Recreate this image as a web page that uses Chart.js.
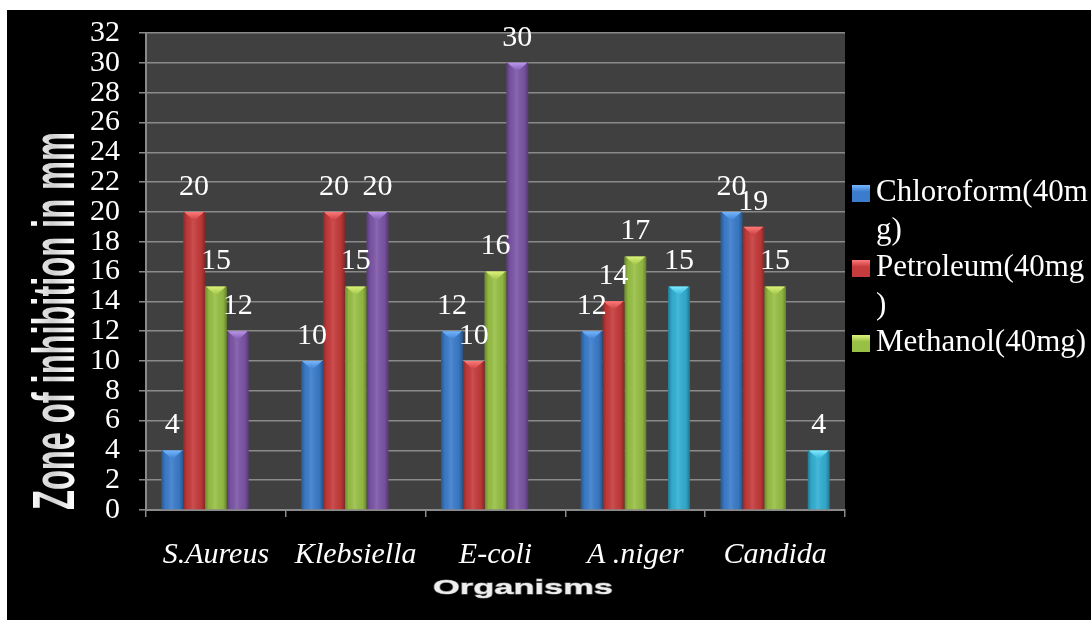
<!DOCTYPE html>
<html><head><meta charset="utf-8">
<script src="https://cdn.jsdelivr.net/npm/chart.js@4.4.0/dist/chart.umd.min.js"></script>
<style>
html,body{margin:0;padding:0;background:#fff;}
#wrap{position:absolute;left:7px;top:10px;width:1084px;height:610px;background:#000;}
canvas{display:block;}
</style></head><body>
<div id="wrap"><canvas id="c" width="1084" height="610"></canvas></div>
<script>
const categories = ['S.Aureus', 'Klebsiella', 'E-coli', 'A .niger', 'Candida'];
const chloroform = [4, 10, 12, 12, 20];
const petroleum = [20, 20, 10, 14, 19];
const methanol = [15, 15, 16, 17, 15];
const seriesPurple = [12, 20, 30, null, null];
const seriesCyan = [null, null, null, 15, 4];
const seriesNames = ['Chloroform(40mg)', 'Petroleum(40mg)', 'Methanol(40mg)', 'Series 4', 'Series 5'];
const legendLines = [['Chloroform(40m', 'g)'], ['Petroleum(40mg', ')'], ['Methanol(40mg)']];
const yTicks = [0, 2, 4, 6, 8, 10, 12, 14, 16, 18, 20, 22, 24, 26, 28, 30, 32];
const yTitle = 'Zone of inhibition in mm';
const xTitle = 'Organisms';

const barColors = ['#3b7dcc', '#c63b3b', '#98c045', '#7d56a8', '#33b0d4'];
const hiColors = ['#74b6ff', '#ff7a7a', '#dcf27a', '#bb96ec', '#7eeaff'];
const SERIF = "'Liberation Serif','Times New Roman',serif";

const plotBg = {
  id: 'plotBg',
  beforeDraw(chart) {
    const {ctx, chartArea: a} = chart;
    ctx.save();
    ctx.fillStyle = '#404040';
    ctx.fillRect(a.left, a.top, a.right - a.left, a.bottom - a.top);
    ctx.restore();
  }
};

const barShade = {
  id: 'barShade',
  afterDatasetsDraw(chart) {
    const ctx = chart.ctx;
    chart.data.datasets.forEach((ds, i) => {
      const meta = chart.getDatasetMeta(i);
      meta.data.forEach((bar, j) => {
        if (ds.data[j] == null) return;
        const p = bar.getProps(['x', 'y', 'base', 'width'], true);
        const l = p.x - p.width / 2, r = p.x + p.width / 2;
        ctx.save();
        const g = ctx.createLinearGradient(l, 0, r, 0);
        g.addColorStop(0, 'rgba(0,0,0,0.30)');
        g.addColorStop(0.18, 'rgba(0,0,0,0.04)');
        g.addColorStop(0.45, 'rgba(255,255,255,0.10)');
        g.addColorStop(0.82, 'rgba(0,0,0,0.06)');
        g.addColorStop(1, 'rgba(0,0,0,0.32)');
        ctx.fillStyle = g;
        ctx.fillRect(l, p.y, p.width, p.base - p.y);
        const h = Math.min(9, p.base - p.y);
        const cg = ctx.createLinearGradient(0, p.y, 0, p.y + h);
        cg.addColorStop(0, hiColors[i]);
        cg.addColorStop(1, barColors[i]);
        ctx.fillStyle = cg;
        ctx.beginPath();
        ctx.moveTo(l + 1, p.y);
        ctx.lineTo(r - 1, p.y);
        ctx.lineTo(p.x, p.y + h);
        ctx.closePath();
        ctx.fill();
        ctx.restore();
      });
    });
  }
};

const valueLabels = {
  id: 'valueLabels',
  afterDatasetsDraw(chart) {
    const ctx = chart.ctx;
    ctx.save();
    ctx.font = '30px ' + SERIF;
    ctx.fillStyle = '#ffffff';
    ctx.textAlign = 'center';
    ctx.textBaseline = 'middle';
    chart.data.datasets.forEach((ds, i) => {
      const meta = chart.getDatasetMeta(i);
      meta.data.forEach((bar, j) => {
        if (ds.data[j] == null) return;
        ctx.fillText(String(ds.data[j]), bar.x, bar.y - 25);
      });
    });
    ctx.restore();
  }
};

const titles = {
  id: 'titles',
  afterDraw(chart) {
    const ctx = chart.ctx;
    ctx.save();
    ctx.font = 'bold 60px "Liberation Sans", Arial, sans-serif';
    const wy = ctx.measureText(yTitle).width;
    ctx.translate(45, 311);
    ctx.rotate(-Math.PI / 2);
    ctx.scale(378 / wy, 1);
    ctx.textAlign = 'center';
    ctx.textBaseline = 'alphabetic';
    const gy = ctx.createLinearGradient(0, -22, 0, 22);
    gy.addColorStop(0, '#ffffff');
    gy.addColorStop(0.5, '#d0d0d0');
    gy.addColorStop(1, '#ffffff');
    ctx.fillStyle = gy;
    ctx.fillText(yTitle, 0, 22);
    ctx.restore();
    ctx.save();
    ctx.font = 'bold 21px "Liberation Sans", Arial, sans-serif';
    const wx = ctx.measureText(xTitle).width;
    ctx.translate(516, 578);
    ctx.scale(180 / wx, 1);
    ctx.textAlign = 'center';
    ctx.textBaseline = 'middle';
    ctx.fillStyle = '#eeeeee';
    ctx.strokeStyle = 'rgba(140,140,140,0.8)';
    ctx.lineWidth = 1;
    ctx.strokeText(xTitle, 0, 0);
    ctx.fillText(xTitle, 0, 0);
    ctx.restore();
  }
};

const customLegend = {
  id: 'customLegend',
  afterDraw(chart) {
    const ctx = chart.ctx;
    ctx.save();
    ctx.font = '31px ' + SERIF;
    ctx.textBaseline = 'middle';
    ctx.textAlign = 'left';
    let line = 0;
    legendLines.forEach((lines, i) => {
      const yc = 183 + line * 37.5;
      const g = ctx.createLinearGradient(845, yc - 8, 845, yc + 9);
      g.addColorStop(0, hiColors[i]);
      g.addColorStop(0.4, barColors[i]);
      g.addColorStop(1, barColors[i]);
      ctx.fillStyle = g;
      ctx.fillRect(845, yc - 8, 18, 17);
      ctx.fillStyle = '#ffffff';
      lines.forEach((t, k) => {
        ctx.fillText(t, 869, 183 + (line + k) * 37.5);
      });
      line += lines.length;
    });
    ctx.restore();
  }
};

const datasets = [chloroform, petroleum, methanol, seriesPurple, seriesCyan].map((d, i) => ({
  label: seriesNames[i],
  data: d,
  backgroundColor: barColors[i],
  borderWidth: 0,
  categoryPercentage: 0.78,
  barPercentage: 1.0
}));

new Chart(document.getElementById('c'), {
  type: 'bar',
  data: {labels: categories, datasets},
  options: {
    responsive: false,
    animation: false,
    devicePixelRatio: 1,
    layout: {padding: {top: 23, right: 246, left: 0, bottom: 0}},
    plugins: {legend: {display: false}, tooltip: {enabled: false}},
    scales: {
      x: {
        afterFit(s) { s.height = 110; s.paddingLeft = 0; s.paddingRight = 0; },
        grid: {display: true, drawOnChartArea: false, drawTicks: true, tickLength: 7, color: '#8a8a8a', lineWidth: 1.5, offset: true},
        border: {display: true, color: '#8a8a8a', width: 2},
        ticks: {color: '#ffffff', font: {family: SERIF, size: 30, style: 'italic'}, padding: 20, maxRotation: 0, autoSkip: false}
      },
      y: {
        min: 0, max: 32,
        afterFit(s) { s.width = 139; s.paddingTop = 0; s.paddingBottom = 0; },
        afterBuildTicks(s) { s.ticks = yTicks.map(v => ({value: v})); },
        grid: {color: '#8a8a8a', lineWidth: 1.5, tickLength: 7},
        border: {display: true, color: '#8a8a8a', width: 2},
        ticks: {color: '#ffffff', font: {family: SERIF, size: 30}, padding: 19, autoSkip: false}
      }
    }
  },
  plugins: [plotBg, barShade, valueLabels, titles, customLegend]
});
</script>
</body></html>
